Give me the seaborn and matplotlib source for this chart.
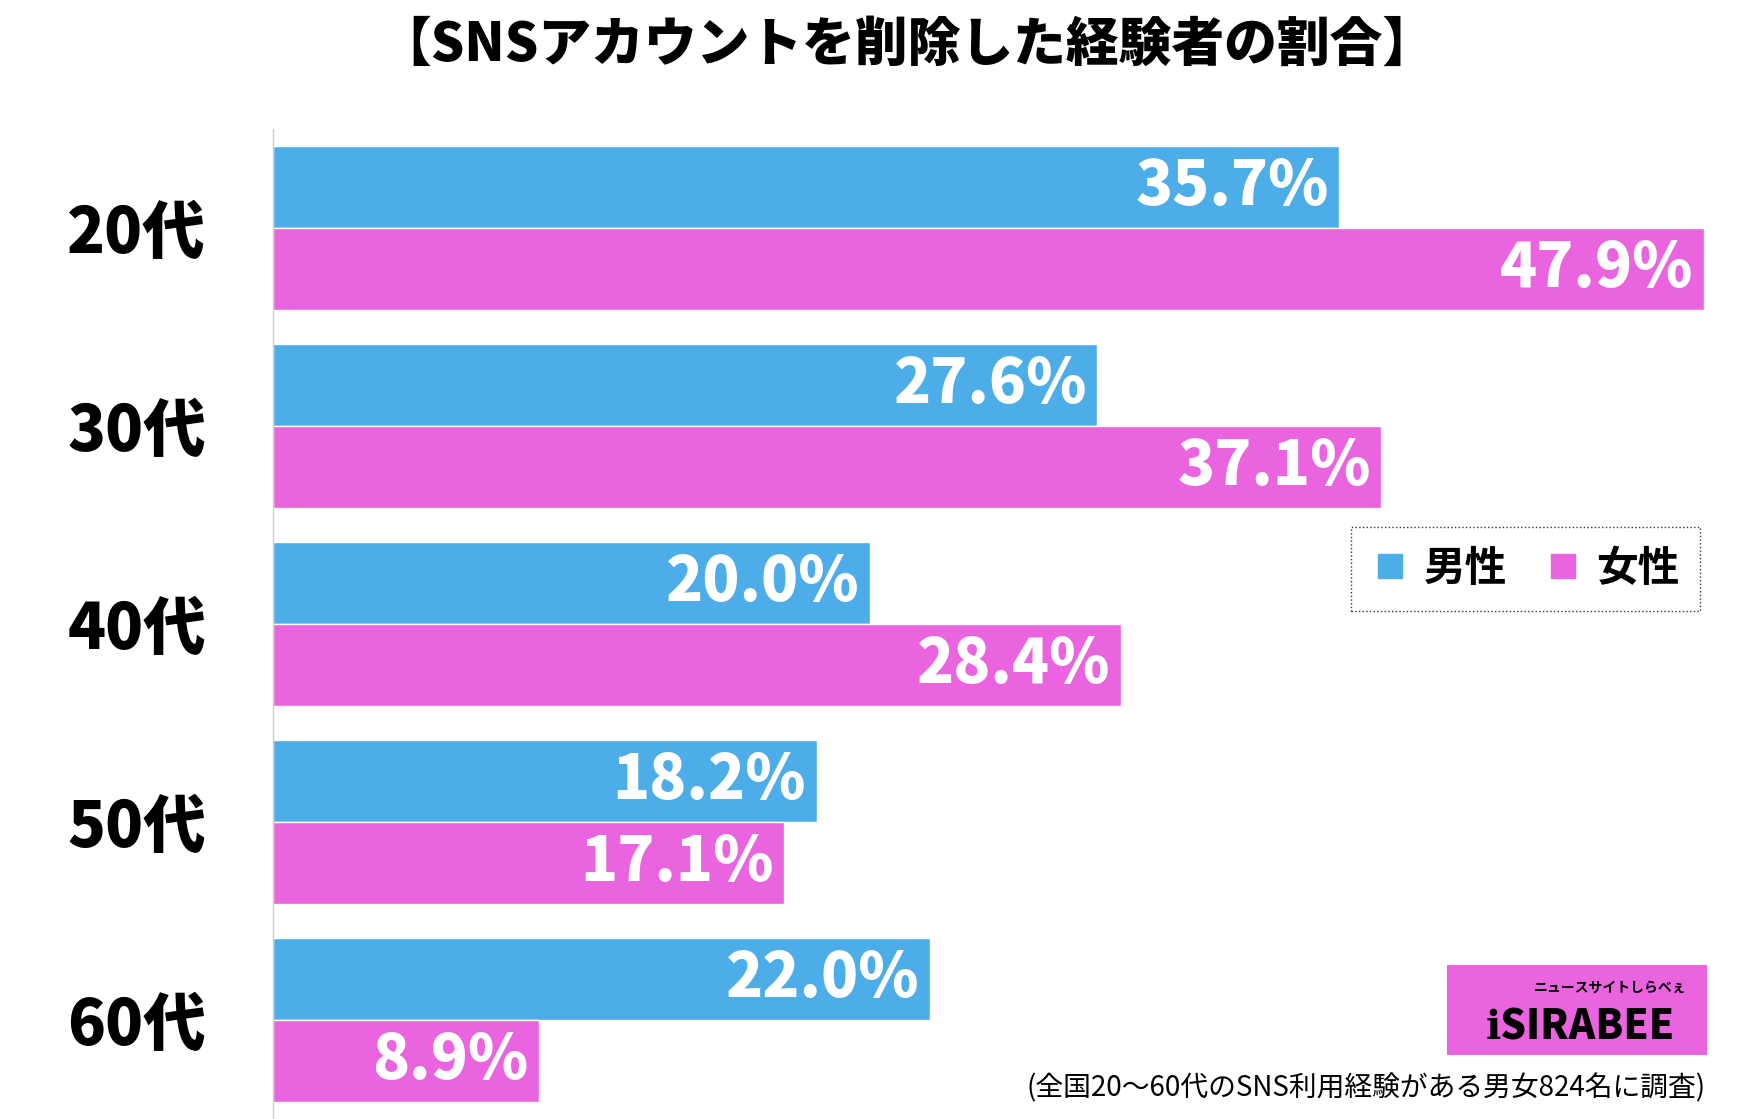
import matplotlib

matplotlib.use('Agg')
import matplotlib.pyplot as plt
import pandas as pd
import seaborn as sns
from matplotlib.lines import Line2D
from matplotlib.patches import Rectangle

ages = ['20代', '30代', '40代', '50代', '60代']
male = [35.7, 27.6, 20.0, 18.2, 22.0]
female = [47.9, 37.1, 28.4, 17.1, 8.9]
groups = ['男性', '女性']
colors = ['#4DADE8', '#EA63DF']

title = '【SNSアカウントを削除した経験者の割合】'
note = '(全国20〜60代のSNS利用経験がある男女824名に調査)'

df = pd.DataFrame({
    'age': ages * 2,
    'value': male + female,
    'sex': [groups[0]] * len(ages) + [groups[1]] * len(ages),
})

sns.set_theme(style='white')
plt.rcParams['font.family'] = ['Noto Sans CJK JP', 'DejaVu Sans']
plt.rcParams['text.color'] = 'black'

fig = plt.figure(figsize=(17.6, 11.19), dpi=100)
ax = fig.add_axes([0.155, 0.0, 0.814, 0.885])

sns.barplot(data=df, y='age', x='value', hue='sex', order=ages, hue_order=groups,
            palette=colors, orient='h', width=0.83, saturation=1, legend=False, ax=ax)

for container in ax.containers:
    for patch in container:
        w = patch.get_width()
        ax.text(w - 0.35, patch.get_y() + patch.get_height() / 2, f'{w:.1f}%',
                ha='right', va='center', color='white', fontsize=44, fontweight='heavy')

ax.set_xlim(0, 47.95)
ax.set_ylim(4.5, -0.5)
ax.set_xlabel('')
ax.set_ylabel('')
ax.set_xticks([])
ax.tick_params(axis='y', length=0, pad=48)
for lbl in ax.get_yticklabels():
    lbl.set_fontsize(45)
    lbl.set_fontweight('heavy')
    lbl.set_color('black')
for side in ['top', 'right', 'bottom']:
    ax.spines[side].set_visible(False)
ax.spines['left'].set_color('#cccccc')
ax.spines['left'].set_linewidth(1)

handles = [Line2D([], [], marker='s', linestyle='', markersize=17, color=c) for c in colors]
leg = ax.legend(handles, groups, loc='center', bbox_to_anchor=(0.8668, 0.4915),
                bbox_transform=fig.transFigure, ncol=2, frameon=True, fancybox=False,
                prop={'size': 30, 'weight': 'bold'}, handlelength=0.9, handletextpad=0.35,
                columnspacing=0.9, borderpad=0.5, borderaxespad=0)
frame = leg.get_frame()
frame.set_edgecolor('black')
frame.set_linestyle(':')
frame.set_linewidth(1)

fig.text(0.515, 0.96, title, ha='center', va='center', fontsize=38, fontweight='heavy',
         color='black')
fig.text(0.969, 0.027, note, ha='right', va='center', fontsize=20, color='black')

# logo box
fig.patches.append(Rectangle((0.822, 0.057), 0.148, 0.081, transform=fig.transFigure,
                             facecolor='#EA63DF', edgecolor='none', zorder=5))
fig.text(0.898, 0.082, 'ℹSIRABEE', ha='center', va='center', fontsize=29,
         fontweight='heavy', style='italic', color='black', zorder=6)
fig.text(0.915, 0.117, 'ニュースサイトしらべぇ', ha='center', va='center', fontsize=10,
         fontweight='bold', color='black', zorder=6)

fig.savefig('out.png', dpi=100)
